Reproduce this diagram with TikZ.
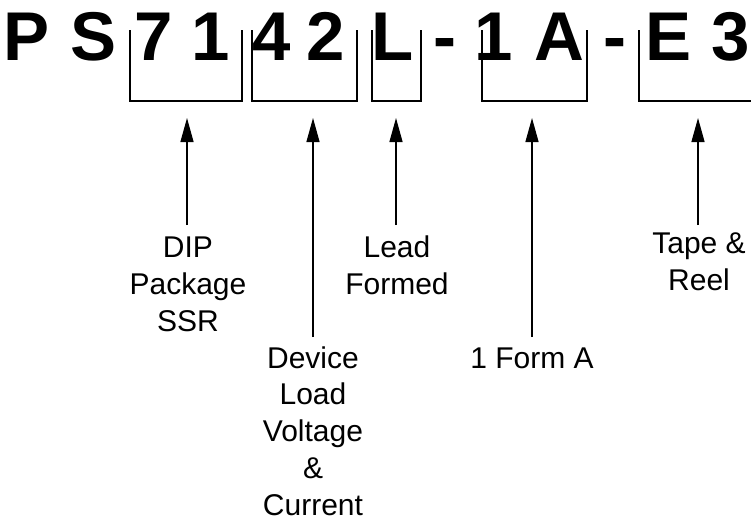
\documentclass[tikz,border=0pt]{standalone}
\usepackage{fontspec}
\setmainfont{Liberation Sans}
\usetikzlibrary{arrows.meta}
\begin{document}
\begin{tikzpicture}[x=1pt,y=-1pt,
  brk/.style={line width=1.3pt},
  arr/.style={line width=1.3pt,-{Triangle[length=24pt,width=13pt]}},
  lbl/.style={font=\fontsize{30}{36.7}\selectfont,align=center,inner sep=0pt,anchor=base},
  part/.style={font=\fontsize{69}{69}\selectfont\bfseries,inner sep=0pt,anchor=base}]
\useasboundingbox (0,0) rectangle (751,520);
% part number characters
\node[part] (cP)  at (27,60)  {P};
\node[part] (cS)  at (94,60)  {S};
\node[part] (c7)  at (154,60) {7};
\node[part] (c1)  at (211,60) {1};
\node[part] (c4)  at (272,60) {4};
\node[part] (c2)  at (326,60) {2};
\node[part] (cL)  at (393,60) {L};
\node[part] (cd1) at (445,60) {-};
\node[part] (c1b) at (494,60) {1};
\node[part] (cA)  at (559,60) {A};
\node[part] (cd2) at (615,60) {-};
\node[part] (cE)  at (668,60) {E};
\node[part] (c3)  at (731,60) {3};
% brackets
\draw[brk] (130,30) -- (130,101) -- (242,101) -- (242,30);
\draw[brk] (252,30) -- (252,101) -- (357,101) -- (357,30);
\draw[brk] (372,30) -- (372,101) -- (421,101) -- (421,30);
\draw[brk] (482,30) -- (482,101) -- (587,101) -- (587,30);
\draw[brk] (639,30) -- (639,101) -- (760,101);
% labels (positioned by baseline of the last line)
\node[lbl] (l1) at (188,331) {DIP\\Package\\SSR};
\node[lbl] (l2) at (313,515) {Device\\Load\\Voltage\\\&\\Current};
\node[lbl] (l3) at (397,294) {Lead\\Formed};
\node[lbl] (l4) at (532,368) {1 Form A};
\node[lbl] (l5) at (699,290) {Tape \&\\Reel};
% arrows
\coordinate (s1) at (187,225);
\coordinate (s2) at (313,337);
\coordinate (s3) at (396,225);
\coordinate (s4) at (532,337);
\coordinate (s5) at (698,225);
\coordinate (t1) at (187,118);
\coordinate (t2) at (313,118);
\coordinate (t3) at (396,118);
\coordinate (t4) at (532,118);
\coordinate (t5) at (698,118);
\draw[arr] (s1) -- (t1);
\draw[arr] (s2) -- (t2);
\draw[arr] (s3) -- (t3);
\draw[arr] (s4) -- (t4);
\draw[arr] (s5) -- (t5);
\end{tikzpicture}
\end{document}
